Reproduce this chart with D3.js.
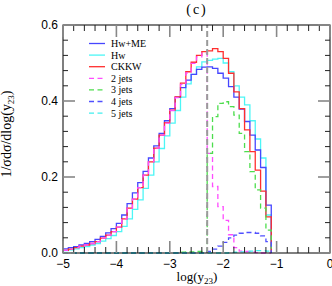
<!DOCTYPE html>
<html>
  <head>
    <script src="https://d3js.org/d3.v7.min.js"></script>
    <style>
      body { margin: 0; background: #fff; }
      text { fill: #000; }
    </style>
  </head>
  <body>
    <div id="chart"></div>
    <script>
      // lower edges of the log(y23) bins, width 0.1
      var bins = [-5.0, -4.9, -4.8, -4.7, -4.6, -4.5, -4.4, -4.3, -4.2, -4.1,
                  -4.0, -3.9, -3.8, -3.7, -3.6, -3.5, -3.4, -3.3, -3.2, -3.1,
                  -3.0, -2.9, -2.8, -2.7, -2.6, -2.5, -2.4, -2.3, -2.2, -2.1,
                  -2.0, -1.9, -1.8, -1.7, -1.6, -1.5, -1.4, -1.3, -1.2];
      var binWidth = 0.1;

      var hwme = [0.011, 0.014, 0.017, 0.021, 0.025, 0.030, 0.036, 0.044, 0.053, 0.064,
                  0.078, 0.100, 0.130, 0.158, 0.185, 0.215, 0.250, 0.282, 0.315, 0.348,
                  0.380, 0.410, 0.435, 0.455, 0.470, 0.483, 0.489, 0.490, 0.486, 0.473,
                  0.460, 0.438, 0.410, 0.379, 0.346, 0.310, 0.271, 0.225, 0.126];
      var hw = [0.006, 0.008, 0.011, 0.014, 0.017, 0.021, 0.025, 0.031, 0.038, 0.046,
                0.056, 0.070, 0.090, 0.115, 0.140, 0.170, 0.205, 0.240, 0.275, 0.308,
                0.342, 0.375, 0.410, 0.445, 0.470, 0.490, 0.503, 0.507, 0.510, 0.512,
                0.500, 0.477, 0.440, 0.410, 0.390, 0.348, 0.300, 0.250, 0.100];
      var ckkw = [0.007, 0.010, 0.014, 0.018, 0.021, 0.025, 0.030, 0.039, 0.047, 0.056,
                  0.068, 0.090, 0.118, 0.142, 0.172, 0.205, 0.240, 0.276, 0.310, 0.343,
                  0.376, 0.411, 0.447, 0.477, 0.502, 0.520, 0.530, 0.532, 0.538, 0.530,
                  0.512, 0.473, 0.424, 0.380, 0.324, 0.267, 0.218, 0.163, 0.095];
      var jets2 = [0.007, 0.010, 0.014, 0.018, 0.021, 0.025, 0.030, 0.039, 0.047, 0.056,
                   0.068, 0.090, 0.118, 0.142, 0.172, 0.205, 0.240, 0.276, 0.310, 0.342,
                   0.375, 0.409, 0.444, 0.474, 0.499, 0.516, 0.526, 0.262, 0.175, 0.122,
                   0.086, 0.048, 0.014, 0.005, 0.004, 0.003, 0.001, 0, 0];
      var jets3 = [0, 0, 0, 0, 0, 0, 0, 0, 0, 0,
                   0, 0, 0, 0, 0, 0, 0, 0, 0, 0,
                   0, 0.001, 0.002, 0.003, 0.003, 0.004, 0.004, 0.262, 0.359, 0.394,
                   0.398, 0.385, 0.363, 0.315, 0.267, 0.214, 0.166, 0.118, 0.060];
      var jets4 = [0, 0, 0, 0, 0, 0, 0, 0, 0, 0,
                   0, 0, 0, 0, 0, 0, 0, 0, 0, 0,
                   0, 0, 0, 0, 0, 0, 0, 0.004, 0.010, 0.018,
                   0.028, 0.040, 0.047, 0.052, 0.054, 0.054, 0.052, 0.045, 0.030];
      var jets5 = [0, 0, 0, 0, 0, 0, 0, 0, 0, 0,
                   0, 0, 0, 0, 0, 0, 0, 0, 0, 0,
                   0, 0, 0, 0, 0, 0, 0, 0, 0, 0,
                   0, 0.001, 0.002, 0.003, 0.004, 0.005, 0.006, 0.006, 0.005];

      var cutValue = -2.3;
      var xTicks = [-5, -4, -3, -2, -1, 0];
      var yTicks = [0.0, 0.2, 0.4, 0.6];

      var series = [
        { name: "Hw+ME", values: hwme, color: "#4646ff", dash: null },
        { name: "Hw", values: hw, color: "#4cf6f6", dash: null },
        { name: "CKKW", values: ckkw, color: "#ff2e2e", dash: null },
        { name: "2 jets", values: jets2, color: "#ff4cff", dash: "5,3.5" },
        { name: "3 jets", values: jets3, color: "#4ddd4d", dash: "5,3.5" },
        { name: "4 jets", values: jets4, color: "#5050ff", dash: "5,3.5" },
        { name: "5 jets", values: jets5, color: "#40eeee", dash: "5,3.5" }
      ];

      var width = 332, height = 286;
      var plotL = 63, plotR = 330, plotT = 25, plotB = 253;

      var x = d3.scaleLinear().domain([-5, 0]).range([plotL, plotR]);
      var y = d3.scaleLinear().domain([0, 0.6]).range([plotB, plotT]);

      var svg = d3.select("#chart").append("svg")
        .attr("width", width)
        .attr("height", height);

      // histogram as a step line
      function steps(values) {
        var pts = [];
        values.forEach(function (v, i) {
          pts.push([bins[i], v]);
          pts.push([bins[i] + binWidth, v]);
        });
        pts.push([bins[bins.length - 1] + binWidth, 0]);
        return pts;
      }
      var line = d3.line()
        .x(function (d) { return x(d[0]); })
        .y(function (d) { return y(d[1]); });

      var drawOrder = [1, 0, 2, 3, 4, 5, 6];
      drawOrder.forEach(function (k) {
        var s = series[k];
        svg.append("path")
          .attr("d", line(steps(s.values)))
          .attr("fill", "none")
          .attr("stroke", s.color)
          .attr("stroke-width", 1.3)
          .attr("stroke-dasharray", s.dash);
      });

      // cut line
      svg.append("line")
        .attr("x1", x(cutValue)).attr("x2", x(cutValue))
        .attr("y1", y(0)).attr("y2", y(0.6))
        .attr("stroke", "#9a9a9a")
        .attr("stroke-width", 2)
        .attr("stroke-dasharray", "6,3");

      // frame
      svg.append("rect")
        .attr("x", plotL).attr("y", plotT)
        .attr("width", plotR - plotL).attr("height", plotB - plotT)
        .attr("fill", "none")
        .attr("stroke", "#000")
        .attr("stroke-width", 1);

      // ticks, inside on all four sides
      var g = svg.append("g");
      d3.range(0, 26).forEach(function (i) {
        var v = -5 + i * 0.2;
        var major = i % 5 === 0;
        var len = major ? 12 : 6;
        [[plotB, -1], [plotT, 1]].forEach(function (p) {
          g.append("line")
            .attr("x1", x(v)).attr("x2", x(v))
            .attr("y1", p[0]).attr("y2", p[0] + p[1] * len)
            .attr("stroke", major ? "#888" : "#222")
            .attr("stroke-width", major ? 1.6 : 1);
        });
      });
      d3.range(0, 16).forEach(function (i) {
        var v = i * 0.04;
        var major = i % 5 === 0;
        var len = major ? 12 : 5;
        [[plotL, 1], [plotR, -1]].forEach(function (p) {
          g.append("line")
            .attr("y1", y(v)).attr("y2", y(v))
            .attr("x1", p[0]).attr("x2", p[0] + p[1] * len)
            .attr("stroke", major ? "#888" : "#222")
            .attr("stroke-width", major ? 1.6 : 1);
        });
      });

      // tick labels
      svg.selectAll(".xl").data(xTicks).enter().append("text")
        .attr("x", function (d) { return x(d); })
        .attr("y", 268)
        .attr("text-anchor", "middle")
        .style("font", "12px 'Liberation Sans', sans-serif")
        .text(function (d) { return d < 0 ? "\u2212" + Math.abs(d) : d; });
      svg.selectAll(".yl").data(yTicks).enter().append("text")
        .attr("x", 58)
        .attr("y", function (d) { return y(d) + 4; })
        .attr("text-anchor", "end")
        .style("font", "12px 'Liberation Sans', sans-serif")
        .text(function (d) { return d.toFixed(1); });

      // axis titles
      var xl = svg.append("text")
        .attr("x", 197).attr("y", 281)
        .attr("text-anchor", "middle")
        .style("font", "13px 'Liberation Serif', serif");
      xl.append("tspan").text("log(y");
      xl.append("tspan").attr("dy", 3).style("font-size", "9px").text("23");
      xl.append("tspan").attr("dy", -3).text(")");

      var yl = svg.append("text")
        .attr("transform", "translate(11,134) rotate(-90)")
        .attr("text-anchor", "middle")
        .style("font", "14px 'Liberation Serif', serif");
      yl.append("tspan").text("1/\u03c3d\u03c3/dlog(y");
      yl.append("tspan").attr("dy", 3).style("font-size", "9px").text("23");
      yl.append("tspan").attr("dy", -3).text(")");

      svg.append("text")
        .attr("x", 197).attr("y", 14)
        .attr("text-anchor", "middle")
        .style("font", "14px 'Liberation Serif', serif")
        .style("letter-spacing", "2px")
        .text("(c)");

      // legend
      var leg = svg.append("g");
      series.forEach(function (s, i) {
        var ly = 43.5 + i * 11.6;
        leg.append("line")
          .attr("x1", 89).attr("x2", 105)
          .attr("y1", ly).attr("y2", ly)
          .attr("stroke", s.color)
          .attr("stroke-width", 1.3)
          .attr("stroke-dasharray", s.dash);
        leg.append("text")
          .attr("x", 111).attr("y", ly + 3.5)
          .style("font", "10px 'Liberation Serif', serif")
          .text(s.name);
      });
    </script>
  </body>
</html>
